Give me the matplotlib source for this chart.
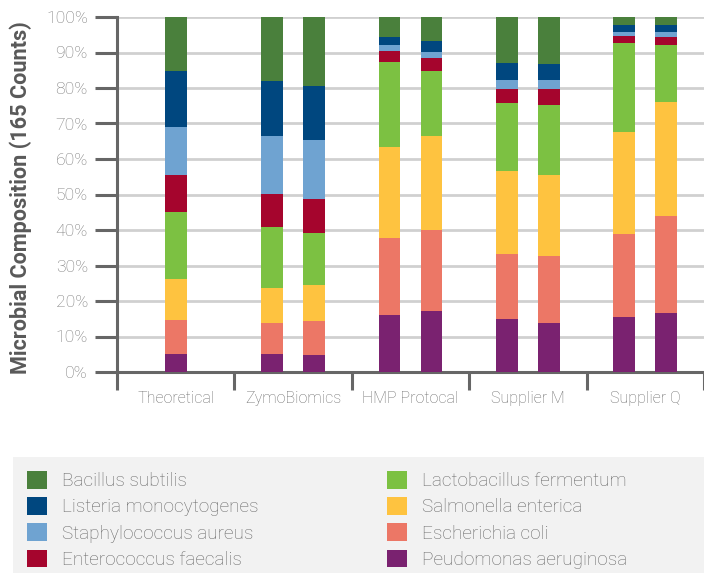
import numpy as np
import matplotlib.pyplot as plt
from matplotlib.patches import Rectangle

plt.rcParams['font.family'] = ['Roboto', 'DejaVu Sans']

groups = ['Theoretical', 'ZymoBiomics', 'HMP Protocal', 'Supplier M', 'Supplier Q']
# bars per group: Theoretical has one, the others two replicates
bars_per_group = [1, 2, 2, 2, 2]

# species, bottom to top; values in % for the 9 bars
pseudomonas = [5.1, 5.1, 4.8, 16.1, 17.2, 14.9, 13.8, 15.5, 16.6]
ecoli = [9.6, 8.7, 9.6, 21.7, 22.8, 18.4, 18.9, 23.4, 27.4]
salmonella = [11.6, 9.9, 10.1, 25.6, 26.5, 23.4, 22.8, 28.8, 32.1]
lactobacillus = [18.7, 17.2, 14.7, 24.0, 18.4, 19.1, 19.8, 25.1, 16.1]
enterococcus = [10.4, 9.3, 9.6, 3.1, 3.6, 4.0, 4.5, 1.9, 2.3]
staphylococcus = [13.5, 16.3, 16.6, 1.7, 1.7, 2.5, 2.5, 1.2, 1.4]
listeria = [15.8, 15.5, 15.2, 2.3, 3.1, 4.8, 4.5, 1.9, 1.9]
bacillus = [15.4, 18.0, 19.4, 5.5, 6.7, 12.9, 13.2, 2.2, 2.2]

series = [
    ('Peudomonas aeruginosa', pseudomonas, '#7a2270'),
    ('Escherichia coli', ecoli, '#ec7766'),
    ('Salmonella enterica', salmonella, '#fec340'),
    ('Lactobacillus fermentum', lactobacillus, '#7cc142'),
    ('Enterococcus faecalis', enterococcus, '#a5052d'),
    ('Staphylococcus aureus', staphylococcus, '#6fa3d1'),
    ('Listeria monocytogenes', listeria, '#00477f'),
    ('Bacillus subtilis', bacillus, '#4a803c'),
]

fig = plt.figure(figsize=(7.04, 5.73), dpi=100)
ax = fig.add_axes([117 / 704, 1 - 372 / 573, 587 / 704, 355 / 573])

# bar positions
off = 0.179
xpos = []
for g, n in enumerate(bars_per_group):
    if n == 1:
        xpos.append(g)
    else:
        xpos += [g - off, g + off]
xpos = np.array(xpos)

bottom = np.zeros(len(xpos))
handles = {}
for name, vals, col in series:
    vals = np.array(vals)
    h = ax.bar(xpos, vals, 0.187, bottom=bottom, color=col, zorder=3, linewidth=0)
    handles[name] = h
    bottom += vals

ax.set_xlim(-0.5, 4.5)
ax.set_ylim(0, 100)

# grid
ax.set_yticks(np.arange(0, 101, 10))
ax.set_yticklabels([f'{v}%' for v in range(0, 101, 10)])
ax.yaxis.grid(True, color='#d0d0d0', linewidth=2, zorder=0)
ax.set_axisbelow(True)

ax.tick_params(axis='y', length=16, width=2.2, color='#666666', labelcolor='#7a7a7a',
               labelsize=12.6, pad=5)
for lab in ax.get_yticklabels():
    lab.set_fontweight('light')

ax.set_xticks(range(len(groups)))
ax.set_xticklabels(groups)
ax.set_xticks(np.arange(-0.5, 4.6, 1), minor=True)
ax.tick_params(axis='x', which='major', length=0, labelcolor='#6e6e6e', labelsize=11.5, pad=14)
ax.tick_params(axis='x', which='minor', length=13, width=2.2, color='#666666')
for lab in ax.get_xticklabels():
    lab.set_fontweight('light')

for s in ['top', 'right']:
    ax.spines[s].set_visible(False)
for s in ['left', 'bottom']:
    ax.spines[s].set_color('#666666')
    ax.spines[s].set_linewidth(2.2)

ax.set_ylabel('Microbial Composition (165 Counts)', fontsize=15.6, fontweight='bold',
              color='#595959')
ax.yaxis.set_label_coords(-85 / 587, 0.49)

# legend background
fig.add_artist(Rectangle((13 / 704, 0), 1 - 13 / 704, (573 - 457) / 573,
                         transform=fig.transFigure, facecolor='#f2f2f2', edgecolor='none',
                         zorder=0))

col1 = ['Bacillus subtilis', 'Listeria monocytogenes', 'Staphylococcus aureus', 'Enterococcus faecalis']
col2 = ['Lactobacillus fermentum', 'Salmonella enterica', 'Escherichia coli', 'Peudomonas aeruginosa']
for names, x0 in [(col1, 27), (col2, 387)]:
    leg = fig.legend([handles[n] for n in names], names, loc='upper left',
                     bbox_to_anchor=(x0 / 704, 1 - 471 / 573), frameon=False,
                     borderpad=0, borderaxespad=0, handlelength=1.05,
                     handleheight=1.05, handletextpad=0.78, labelspacing=0.36,
                     labelcolor='#686868', prop={'weight': 'light', 'size': 13.7})

fig.savefig('out.png', dpi=100)
